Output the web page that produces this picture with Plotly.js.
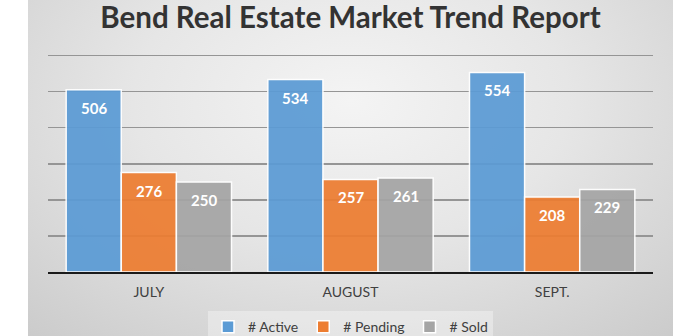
<!DOCTYPE html>
<html>
<head>
<meta charset="utf-8">
<script src="https://cdn.plot.ly/plotly-3.0.1.min.js"></script>
<style>
  html, body { margin: 0; padding: 0; background: #ffffff; }
  #wrap { position: relative; width: 700px; height: 336px; overflow: hidden; }
  #bg { position: absolute; left: 28px; top: 0; width: 645px; height: 336px;
        background: radial-gradient(ellipse 75% 95% at 50% 30%, #f4f4f4 0%, #e6e6e6 45%, #cbcbcb 100%); }
  #chart { position: absolute; left: 0; top: 0; width: 700px; height: 336px; }
</style>
</head>
<body>
<div id="wrap"><div id="bg"></div><div id="chart"></div></div>
<script>
const months = ["JULY", "AUGUST", "SEPT."];
const active = [506, 534, 554];
const pending = [276, 257, 208];
const sold = [250, 261, 229];
const seriesNames = ["# Active", "# Pending", "# Sold"];
const seriesColors = ["#5B9BD5", "#ED7D31", "#A5A5A5"];
const seriesValues = [active, pending, sold];

const font = "Lato, 'Open Sans', sans-serif";
const bargap = 0.18;

const traces = seriesValues.map((vals, k) => ({
  type: "bar",
  name: seriesNames[k],
  x: months,
  y: vals,
  marker: { color: seriesColors[k], opacity: 0.93, line: { color: "#ffffff", width: 1.5 } },
  hoverinfo: "skip"
}));

// value labels inside top of each bar, positioned in data coordinates
const barW = (1 - bargap) / seriesValues.length;
const annotations = [];
seriesValues.forEach((vals, k) => {
  vals.forEach((v, i) => {
    annotations.push({
      x: i + (k - (seriesValues.length - 1) / 2) * barW,
      y: v, xref: "x", yref: "y",
      text: "<b>" + v + "</b>",
      showarrow: false, yanchor: "middle", yshift: -18,
      font: { family: font, size: 15, color: "#ffffff" }
    });
  });
});

const layout = {
  width: 700, height: 336,
  margin: { l: 48, r: 47, t: 54, b: 64, autoexpand: false },
  paper_bgcolor: "rgba(0,0,0,0)",
  plot_bgcolor: "rgba(0,0,0,0)",
  title: {
    text: "<b>Bend Real Estate Market Trend Report</b>",
    font: { family: font, size: 29.5, color: "#333333" },
    x: 0.5, xanchor: "center", xref: "paper",
    y: 0.946, yanchor: "middle", yref: "container",
    automargin: false
  },
  barmode: "group",
  bargap: bargap,
  bargroupgap: 0.0,
  xaxis: {
    type: "category",
    showline: true, linecolor: "#1a1a1a", linewidth: 2,
    ticks: "", showgrid: false,
    tickfont: { family: font, size: 14, color: "#404040" },
    ticklabelstandoff: 6
  },
  yaxis: {
    range: [0, 605], dtick: 100, tick0: 0,
    showticklabels: false, ticks: "",
    showgrid: true, gridcolor: "#959595", gridwidth: 1.2,
    zeroline: false, showline: false
  },
  showlegend: true,
  legend: {
    orientation: "h", x: 0.5, xanchor: "center", y: -0.18, yanchor: "top",
    font: { family: font, size: 14, color: "#404040" },
    bgcolor: "rgba(255,255,255,0.35)",
    itemwidth: 30, traceorder: "normal",
    itemclick: false, itemdoubleclick: false
  },
  annotations: annotations
};

Plotly.newPlot("chart", traces, layout, { staticPlot: true, displayModeBar: false });
</script>
</body>
</html>
